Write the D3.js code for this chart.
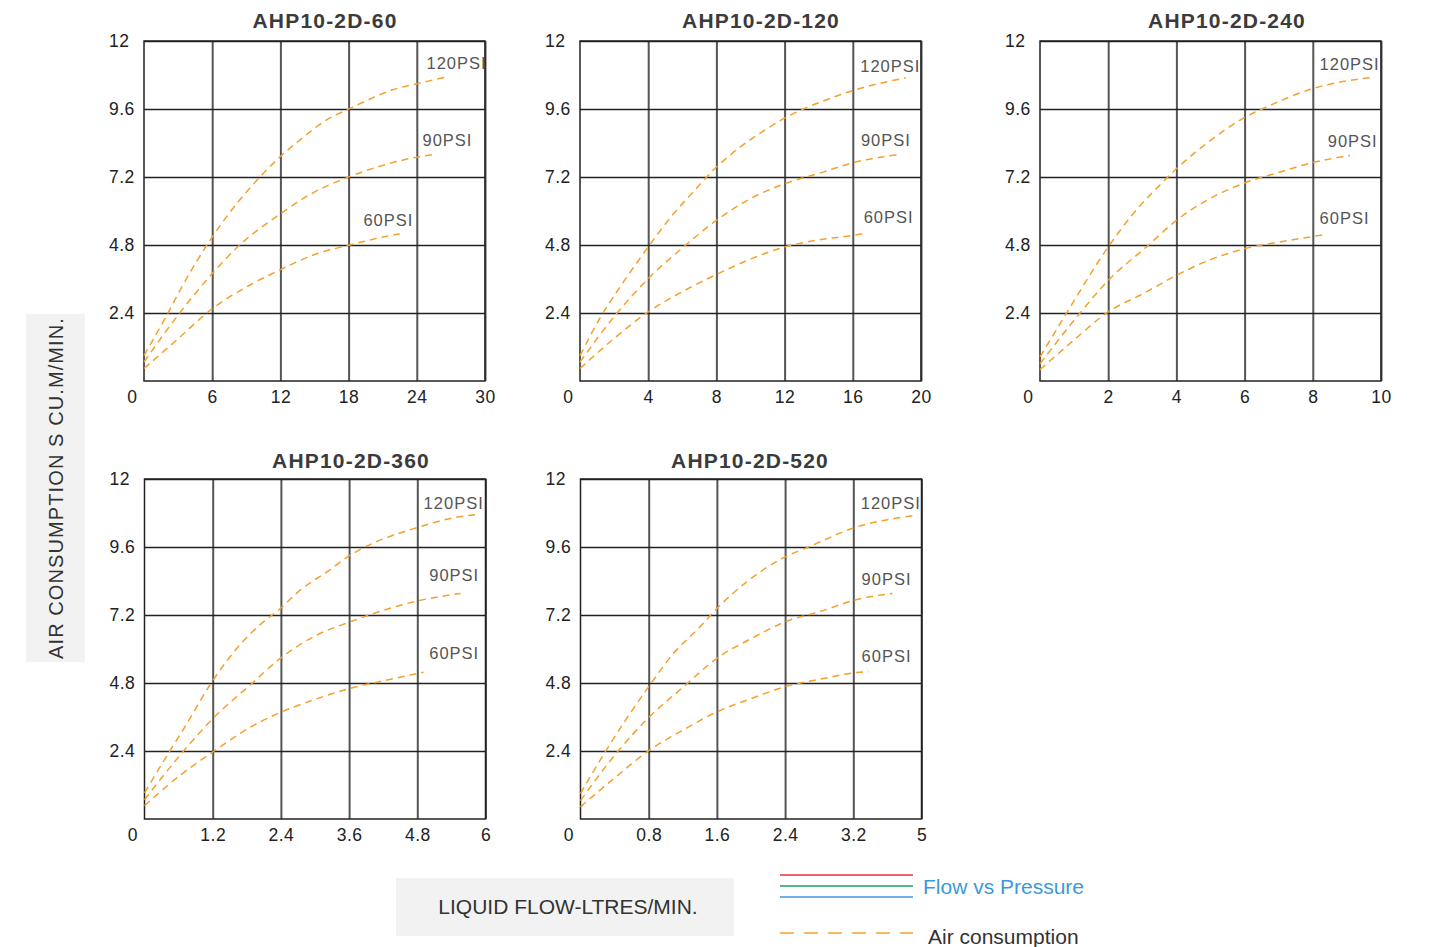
<!DOCTYPE html>
<html><head><meta charset="utf-8">
<script src="https://cdn.jsdelivr.net/npm/d3@7"></script>
<style>
html,body{margin:0;padding:0;background:#fff;}
svg{display:block;font-family:"Liberation Sans",Arial,sans-serif;}
</style></head>
<body><svg id="c" width="1446" height="947"></svg>
<script>
// ---------- DATA ----------
const titles = ["AHP10-2D-60","AHP10-2D-120","AHP10-2D-240","AHP10-2D-360","AHP10-2D-520"];
const xMaxes = [30, 20, 10, 6, 4];
const xTicks = [[6,12,18,24,30],[4,8,12,16,20],[2,4,6,8,10],[1.2,2.4,3.6,4.8,6],[0.8,1.6,2.4,3.2,4]];
const xTickLabels = [["6","12","18","24","30"],["4","8","12","16","20"],["2","4","6","8","10"],["1.2","2.4","3.6","4.8","6"],["0.8","1.6","2.4","3.2","5"]];
const yTicks = [2.4, 4.8, 7.2, 9.6, 12];
const yTickLabels = ["2.4","4.8","7.2","9.6","12"];
const seriesNames = ["120PSI","90PSI","60PSI"];

const c60_120 = [[0,0.9],[2,2.32],[3.3,3.3],[6,5.08],[8.4,6.38],[10.2,7.2],[12.1,7.96],[13.7,8.5],[16,9.2],[18,9.6],[19.6,9.9],[21.9,10.28],[24,10.49],[26.8,10.75]];
const c60_90  = [[0,0.67],[3.1,2.38],[6,3.79],[8.4,4.79],[12,5.9],[14.9,6.65],[18,7.2],[21,7.61],[24,7.9],[25.6,8.0]];
const c60_60  = [[0,0.44],[2.85,1.44],[6,2.55],[9.3,3.38],[12,3.93],[15.2,4.49],[18,4.79],[21,5.08],[22.5,5.2]];

const c120_120 = [[0,0.9],[1.27,2.32],[2.35,3.32],[4,4.73],[5.48,5.9],[6.65,6.68],[7.9,7.49],[9.4,8.26],[10.96,8.9],[12,9.28],[13.1,9.6],[14.7,9.98],[16,10.25],[19.1,10.7]];
const c120_90  = [[0,0.67],[2.15,2.38],[4,3.61],[6.07,4.73],[8,5.67],[10.2,6.5],[12,6.96],[14.3,7.38],[16,7.7],[18.8,8.0]];
const c120_60  = [[0,0.44],[2,1.5],[4,2.44],[6,3.15],[8,3.76],[10,4.3],[12,4.73],[14,4.98],[16,5.14],[16.8,5.22]];

const c240_120 = [[0,0.85],[0.77,2.38],[2,4.73],[2.73,5.9],[3.6,7.02],[4,7.49],[4.88,8.38],[6,9.3],[6.64,9.67],[8,10.32],[9.82,10.73]];
const c240_90  = [[0,0.61],[1.16,2.38],[2,3.55],[3.12,4.73],[4,5.67],[5.08,6.5],[6,6.99],[6.94,7.34],[8,7.71],[9.09,7.96]];
const c240_60  = [[0,0.4],[1,1.45],[2,2.44],[3.02,3.08],[4,3.73],[5.08,4.32],[6,4.67],[6.94,4.89],[8,5.1],[8.4,5.18]];

const c360_120 = [[0,0.92],[0.42,2.32],[0.68,3.15],[1.21,4.91],[1.68,6.15],[2.03,6.85],[2.39,7.43],[2.74,8.08],[3.21,8.72],[3.62,9.31],[3.91,9.63],[4.79,10.28],[5.44,10.63],[5.85,10.75]];
const c360_90  = [[0,0.68],[0.68,2.38],[1.21,3.56],[1.86,4.73],[2.39,5.67],[2.97,6.43],[3.62,6.96],[4.21,7.37],[4.79,7.69],[5.56,7.96]];
const c360_60  = [[0,0.47],[0.6,1.5],[1.21,2.38],[1.86,3.24],[2.39,3.76],[2.97,4.2],[3.62,4.61],[4.21,4.88],[4.91,5.18]];

const c520_120 = [[0,0.9],[0.29,2.37],[0.8,4.67],[1.09,5.84],[1.4,6.78],[1.6,7.43],[1.95,8.37],[2.4,9.25],[2.66,9.58],[3.21,10.28],[3.93,10.72]];
const c520_90  = [[0,0.65],[0.42,2.32],[0.8,3.58],[1.21,4.67],[1.6,5.67],[2.03,6.41],[2.4,6.96],[2.82,7.33],[3.21,7.72],[3.66,7.96]];
const c520_60  = [[0,0.43],[0.4,1.45],[0.8,2.41],[1.21,3.15],[1.6,3.78],[2.03,4.28],[2.4,4.67],[2.82,4.94],[3.21,5.16],[3.38,5.2]];

const chartSeries = [[c60_120,c60_90,c60_60],[c120_120,c120_90,c120_60],[c240_120,c240_90,c240_60],[c360_120,c360_90,c360_60],[c520_120,c520_90,c520_60]];
// label anchor positions (data coords, centered text)
const labelPos = [
  [[27.5,11.22],[26.7,8.5],[21.5,5.68]],
  [[18.2,11.12],[17.94,8.5],[18.1,5.78]],
  [[9.08,11.19],[9.17,8.47],[8.93,5.74]],
  [[5.44,11.15],[5.45,8.61],[5.45,5.85]],
  [[3.64,11.14],[3.59,8.47],[3.59,5.76]]
];
const legendLabels = ["Flow vs Pressure","Air consumption"];
const axisTitleY = "AIR CONSUMPTION S CU.M/MIN.";
const axisTitleX = "LIQUID FLOW-LTRES/MIN.";

// ---------- LAYOUT ----------
const plotW = 341, plotH = 340;
const layout = [
  {left:144, top:41, titleX:325, titleY:20.5},
  {left:580, top:41, titleX:761, titleY:20.5},
  {left:1040, top:41, titleX:1227, titleY:20.5},
  {left:144.5, top:479, titleX:351, titleY:460.5},
  {left:580.5, top:479, titleX:750, titleY:460.5}
];
const orange = "#f4a12c";

const svg = d3.select("#c");

layout.forEach((L, ci) => {
  const x = d3.scaleLinear().domain([0, xMaxes[ci]]).range([0, plotW]);
  const y = d3.scaleLinear().domain([0, 12]).range([plotH, 0]);
  const g = svg.append("g").attr("transform", `translate(${L.left},${L.top})`);

  svg.append("text").attr("x", L.titleX).attr("y", L.titleY)
    .attr("text-anchor","middle").attr("dominant-baseline","central")
    .attr("font-size", 21).attr("font-weight","bold").attr("letter-spacing","1.2px")
    .attr("fill","#3b3b3b").text(titles[ci]);

  const xa = g.append("g").attr("transform", `translate(0,${plotH})`)
    .call(d3.axisBottom(x).tickValues(xTicks[ci]).tickFormat((d,i)=>xTickLabels[ci][i]).tickSize(-plotH).tickPadding(10));
  xa.select(".domain").remove();
  xa.selectAll(".tick line").attr("stroke","#555").attr("stroke-width",2);
  xa.selectAll(".tick text").attr("font-size",17.5).attr("fill","#222").attr("font-family","Liberation Sans, Arial")
    .attr("y", 16).attr("dy","0.35em").attr("letter-spacing","0.5px");

  const ya = g.append("g")
    .call(d3.axisLeft(y).tickValues(yTicks).tickFormat((d,i)=>yTickLabels[i]).tickSize(-plotW).tickPadding(0));
  ya.select(".domain").remove();
  ya.selectAll(".tick line").attr("stroke","#222").attr("stroke-width",1.5);
  ya.selectAll(".tick text").attr("font-size",17.5).attr("fill","#222").attr("font-family","Liberation Sans, Arial")
    .attr("text-anchor","start").attr("x",-35).attr("letter-spacing","0.5px");

  g.append("text").attr("x",-12).attr("y",plotH+16).attr("dy","0.35em")
    .attr("text-anchor","middle").attr("font-size",17.5).attr("fill","#222").text("0");

  g.append("rect").attr("width",plotW).attr("height",plotH)
    .attr("fill","none").attr("stroke","#222").attr("stroke-width",1.5);

  const line = d3.line().x(d=>x(d[0])).y(d=>y(d[1])).curve(d3.curveMonotoneX);
  chartSeries[ci].forEach((s, si) => {
    g.append("path").attr("d", line(s)).attr("fill","none")
      .attr("stroke",orange).attr("stroke-width",1.5).attr("stroke-dasharray","7,5");
    const lp = labelPos[ci][si];
    g.append("text").attr("x",x(lp[0])).attr("y",y(lp[1])).attr("dy","0.35em")
      .attr("text-anchor","middle").attr("font-size",16.5).attr("letter-spacing","1px")
      .attr("fill","#555").text(seriesNames[si]);
  });
});

// Y axis title box
svg.append("rect").attr("x",26).attr("y",314).attr("width",59).attr("height",348).attr("fill","#f2f2f2");
svg.append("text").attr("transform","translate(56,488) rotate(-90)")
  .attr("text-anchor","middle").attr("dominant-baseline","central")
  .attr("font-size",20).attr("letter-spacing","1.1px").attr("fill","#333").text(axisTitleY);

// X axis title box
svg.append("rect").attr("x",396).attr("y",878).attr("width",338).attr("height",58).attr("fill","#f2f2f2");
svg.append("text").attr("x",568).attr("y",906).attr("text-anchor","middle").attr("dominant-baseline","central")
  .attr("font-size",21).attr("fill","#333").text(axisTitleX);

// legend
const legColors = ["#e8303a","#1aa260","#3a9ad9"];
legColors.forEach((c,i)=>{
  svg.append("line").attr("x1",780).attr("x2",913).attr("y1",875+i*11).attr("y2",875+i*11)
    .attr("stroke",c).attr("stroke-width",1.5);
});
svg.append("text").attr("x",923).attr("y",886).attr("dominant-baseline","central")
  .attr("font-size",21).attr("fill","#3a9ad9").text(legendLabels[0]);
svg.append("line").attr("x1",780).attr("x2",913).attr("y1",933).attr("y2",933)
  .attr("stroke",orange).attr("stroke-width",1.5).attr("stroke-dasharray","14,10");
svg.append("text").attr("x",928).attr("y",936).attr("dominant-baseline","central")
  .attr("font-size",21).attr("fill","#333").text(legendLabels[1]);
</script></body></html>
